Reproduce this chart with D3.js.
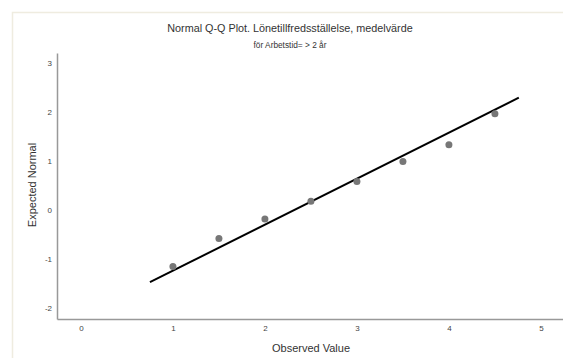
<!DOCTYPE html>
<html>
<head>
<meta charset="utf-8">
<script src="https://cdn.jsdelivr.net/npm/d3@7"></script>
<style>
body{margin:0;background:#fff;font-family:"Liberation Sans",Arial,sans-serif}
</style>
</head>
<body>
<script>
// data
let observed = [1, 1.5, 2, 2.5, 3, 3.5, 4, 4.5]
let expected = [-1.15, -0.58, -0.18, 0.18, 0.58, 0.99, 1.33, 1.96]
let refLine = [[0.75, -1.47], [4.76, 2.29]]
let xTicks = [0, 1, 2, 3, 4, 5]
let yTicks = [-2, -1, 0, 1, 2, 3]

let w = 563, h = 358
let svg = d3.select("body").append("svg").attr("width", w).attr("height", h)

// frame
svg.append("rect").attr("x", 12.5).attr("y", 12.5).attr("width", w).attr("height", h)
    .attr("fill", "none").attr("stroke", "#efece0").attr("stroke-width", 1.5)

let padL = 57, padR = 563, padT = 53, padB = 319
let x = d3.scaleLinear().domain([-0.26, 5.24]).range([padL, padR])
let y = d3.scaleLinear().domain([-2.22, 3.2]).range([padB, padT])

svg.append("text").attr("x", 290).attr("y", 32).attr("text-anchor", "middle")
    .attr("font-size", 10.8).attr("fill", "#333").text("Normal Q-Q Plot. Lönetillfredsställelse, medelvärde")
svg.append("text").attr("x", 290).attr("y", 48).attr("text-anchor", "middle")
    .attr("font-size", 8.3).attr("fill", "#333").text("för Arbetstid= > 2 år")

// axes
let xAxis = d3.axisBottom(x).tickValues(xTicks).tickFormat(d => String(d)).tickSize(0).tickPadding(6)
let yAxis = d3.axisLeft(y).tickValues(yTicks).tickFormat(d => String(d)).tickSize(0).tickPadding(5)
let gx = svg.append("g").attr("transform", "translate(0," + padB + ")").call(xAxis)
let gy = svg.append("g").attr("transform", "translate(" + padL + ",0)").call(yAxis)
gx.select(".domain").attr("stroke", "#999").attr("stroke-width", 1.5)
gy.select(".domain").attr("stroke", "#999").attr("stroke-width", 1.5)
svg.selectAll(".tick text").attr("font-size", 8).attr("fill", "#444").attr("font-family", "Liberation Sans, Arial, sans-serif")

svg.append("text").attr("x", 311).attr("y", 352).attr("text-anchor", "middle")
    .attr("font-size", 11).attr("fill", "#333").text("Observed Value")
svg.append("text").attr("transform", "translate(36,185) rotate(-90)").attr("text-anchor", "middle")
    .attr("font-size", 11).attr("fill", "#333").text("Expected Normal")

// reference line
svg.append("line")
    .attr("x1", x(refLine[0][0])).attr("y1", y(refLine[0][1]))
    .attr("x2", x(refLine[1][0])).attr("y2", y(refLine[1][1]))
    .attr("stroke", "#000").attr("stroke-width", 2)

// points
svg.selectAll("circle.dot").data(observed).enter().append("circle")
    .attr("class", "dot")
    .attr("cx", d => x(d))
    .attr("cy", (d, i) => y(expected[i]))
    .attr("r", 3.5)
    .attr("fill", "#777")
</script>
</body>
</html>
